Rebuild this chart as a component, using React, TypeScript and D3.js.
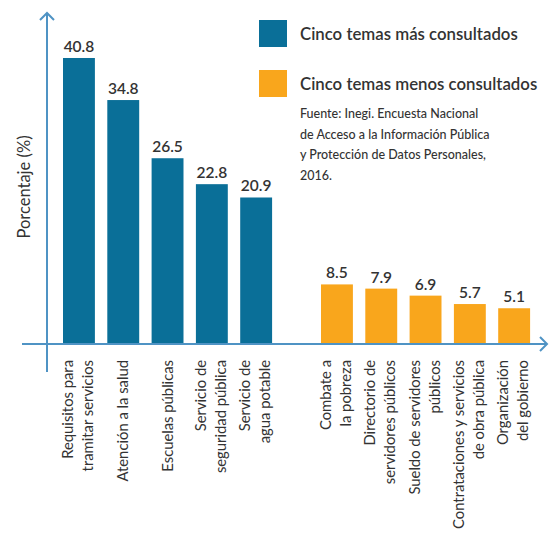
import React from "react";
import * as d3 from "d3";

const topCategories = [
  ["Requisitos para", "tramitar servicios"],
  ["Atención a la salud"],
  ["Escuelas públicas"],
  ["Servicio de", "seguridad pública"],
  ["Servicio de", "agua potable"],
];
const topValues = [40.8, 34.8, 26.5, 22.8, 20.9];
const bottomCategories = [
  ["Combate a", "la pobreza"],
  ["Directorio de", "servidores públicos"],
  ["Sueldo de servidores", "públicos"],
  ["Contrataciones y servicios", "de obra pública"],
  ["Organización", "del gobierno"],
];
const bottomValues = [8.5, 7.9, 6.9, 5.7, 5.1];
const legendLabels = ["Cinco temas más consultados", "Cinco temas menos consultados"];
const sourceLines = [
  "Fuente: Inegi. Encuesta Nacional",
  "de Acceso a la Información Pública",
  "y Protección de Datos Personales,",
  "2016.",
];
const yLabel = "Porcentaje (%)";

const W = 549;
const H = 543;
const BLUE = "#0a6f98";
const ORANGE = "#f9a61c";
const AXIS = "#4f93c4";
const TEXT = "#333";
const FONT = "Lato, 'Open Sans', sans-serif";

export default function App() {
  const baseY = 344;
  const y = d3.scaleLinear().domain([0, 40]).range([baseY, baseY - 280.4]);
  const keyOf = (c: string[]) => c.join(" ");
  const xTop = d3
    .scaleBand<string>()
    .domain(topCategories.map(keyOf))
    .range([56.8, 278.3])
    .paddingInner(0.28)
    .paddingOuter(0.14);
  const xBottom = d3
    .scaleBand<string>()
    .domain(bottomCategories.map(keyOf))
    .range([314.8, 536.3])
    .paddingInner(0.28)
    .paddingOuter(0.14);

  const groups = [
    { cats: topCategories, vals: topValues, x: xTop, color: BLUE },
    { cats: bottomCategories, vals: bottomValues, x: xBottom, color: ORANGE },
  ];

  return (
    <svg
      width={W}
      height={H}
      style={{ position: "absolute", left: 0, top: 0, background: "#fff" }}
      fontFamily={FONT}
    >
      <rect width={W} height={H} fill="#fff" />
      {groups.map((g, gi) =>
        g.cats.map((c, i) => {
          const k = keyOf(c);
          const x0 = g.x(k)!;
          const bw = g.x.bandwidth();
          const cx = x0 + bw / 2;
          const v = g.vals[i];
          return (
            <g key={gi + "-" + i}>
              <rect x={x0} y={y(v)} width={bw} height={baseY - y(v)} fill={g.color} />
              <text
                x={cx}
                y={y(v) - 6}
                textAnchor="middle"
                fontSize={15.5}
                fontWeight={600}
                fill={TEXT}
              >
                {v.toFixed(1)}
              </text>
              {c.map((line, li) => {
                const lx = cx + (li - (c.length - 1) / 2) * 20 - (c.length > 1 ? 1 : 0);
                return (
                  <text
                    key={li}
                    transform={`translate(${lx},360) rotate(-90)`}
                    textAnchor="end"
                    dy="0.35em"
                    fontSize={14.8}
                    fill={TEXT}
                  >
                    {line}
                  </text>
                );
              })}
            </g>
          );
        })
      )}
      {/* axes */}
      <line x1={22} y1={baseY} x2={547} y2={baseY} stroke={AXIS} strokeWidth={2} />
      <polyline points={`540,337 547,344 540,351`} fill="none" stroke={AXIS} strokeWidth={2} />
      <line x1={47} y1={372} x2={47} y2={13} stroke={AXIS} strokeWidth={2} />
      <polyline points={`40,20 47,13 54,20`} fill="none" stroke={AXIS} strokeWidth={2} />
      <text
        transform={`translate(24,187) rotate(-90)`}
        textAnchor="middle"
        dy="0.35em"
        fontSize={16.5}
        fill={TEXT}
      >
        {yLabel}
      </text>
      {/* legend */}
      {legendLabels.map((l, i) => (
        <g key={l}>
          <rect x={259} y={20 + i * 50} width={28} height={27} fill={i === 0 ? BLUE : ORANGE} />
          <text x={300} y={34 + i * 50} dy="0.35em" fontSize={16.8} fontWeight={600} fill={TEXT}>
            {l}
          </text>
        </g>
      ))}
      {sourceLines.map((s, i) => (
        <text key={i} x={300} y={118 + i * 20.5} fontSize={12.5} fontWeight={500} fill={TEXT}>
          {s}
        </text>
      ))}
    </svg>
  );
}
